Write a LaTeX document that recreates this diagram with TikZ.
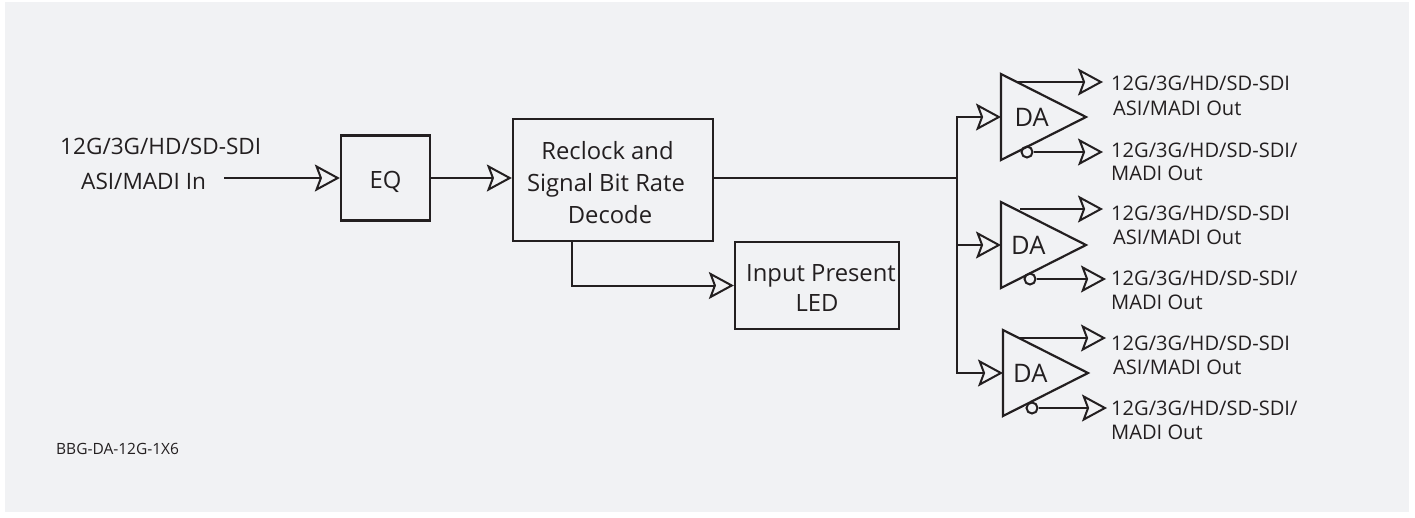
\documentclass[tikz,border=0pt]{standalone}
\usepackage{fontspec}
\setmainfont{Open Sans}
\usetikzlibrary{shapes.geometric,arrows.meta,calc}
\definecolor{panel}{HTML}{F1F2F4}
\definecolor{ink}{HTML}{231F20}

\begin{document}
\begin{tikzpicture}[%
  x=1pt,y=-1pt,
  sig/.style={draw=ink,line width=2pt,-{Stealth[open,length=25pt,width=27pt,inset=5pt]}},
  wire/.style={draw=ink,line width=2pt},
  blockbox/.style={rectangle,draw=ink,line width=2.3pt,inner sep=0pt,align=flush center,text=ink,font=\fontsize{23.8}{32}\selectfont},
  amp/.style={isosceles triangle,isosceles triangle stretches,shape border rotate=0,draw=ink,line width=2.2pt,
    minimum height=85pt,minimum width=86pt,inner sep=0pt,outer sep=0pt,anchor=apex,text=ink,font=\fontsize{25.5}{27}\selectfont},
  inv/.style={circle,draw=ink,line width=2pt,inner sep=0pt,minimum size=11pt},
  inlabel/.style={text=ink,inner sep=0pt,anchor=base west,font=\fontsize{22.6}{26}\selectfont},
  outlabel/.style={text=ink,inner sep=0pt,anchor=base west,font=\fontsize{20.1}{23}\selectfont}]
    \useasboundingbox (0,0) rectangle (1415,517);
    \fill[panel] (5,2) rectangle (1409,512);
    % Input side
    \node[inlabel] (inA) at (60,154) {12G/3G/HD/SD-SDI};
    \node[inlabel] (inB) at (81,189) {ASI/MADI In};
    \coordinate (in) at (224,178);
    \node[blockbox,minimum width=89pt,minimum height=85pt] (eq) at (385.5,178) {\rule{0pt}{26pt}EQ};
    \node[blockbox,text width=200pt,minimum height=122pt] (reclock) at (613,180)
      {\rule{0pt}{24pt}\hspace*{-11pt}Reclock and\\\hspace*{-14pt}Signal Bit Rate\\\hspace*{-6pt}Decode};
    \node[blockbox,minimum width=164pt,minimum height=87pt,font=\fontsize{23.8}{30}\selectfont] (led) at (817,285.5)
      {\rule{0pt}{22pt}\hspace*{8pt}Input Present\\LED};
    \coordinate (tap) at (572,241);
    \coordinate (fork) at (957,178);
    % Amplifiers
    \node[amp] (da1) at (1086,117) {\hspace*{5pt}\raisebox{-2pt}{DA}};
    \node[amp] (da2) at (1086,245) {\raisebox{-3pt}{DA}};
    \node[amp] (da3) at (1088,373) {\raisebox{-2pt}{DA}};
    \node[inv] (inv1) at (1027,152) {};
    \node[inv] (inv2) at (1030,279) {};
    \node[inv] (inv3) at (1032,408) {};
    % Outputs
    \coordinate (da1a) at (1017,82);
    \coordinate (da2a) at (1020,209);
    \coordinate (da3a) at (1020,338);
    \coordinate (out1a) at (1103,82);
    \coordinate (out1b) at (1103,152);
    \coordinate (out2a) at (1103,209);
    \coordinate (out2b) at (1106,279);
    \coordinate (out3a) at (1106,338);
    \coordinate (out3b) at (1107,408);
    \node[outlabel] (lab1a) at (1111,90) {12G/3G/HD/SD-SDI};
    \node[outlabel] (lab1c) at (1113,115) {ASI/MADI Out};
    \node[outlabel] (lab1b) at (1111,157) {12G/3G/HD/SD-SDI/};
    \node[outlabel] (lab1d) at (1111,180) {MADI Out};
    \node[outlabel] (lab2a) at (1111,220) {12G/3G/HD/SD-SDI};
    \node[outlabel] (lab2c) at (1113,244) {ASI/MADI Out};
    \node[outlabel] (lab2b) at (1111,285) {12G/3G/HD/SD-SDI/};
    \node[outlabel] (lab2d) at (1111,309) {MADI Out};
    \node[outlabel] (lab3a) at (1111,350) {12G/3G/HD/SD-SDI};
    \node[outlabel] (lab3c) at (1113,374) {ASI/MADI Out};
    \node[outlabel] (lab3b) at (1111,415) {12G/3G/HD/SD-SDI/};
    \node[outlabel] (lab3d) at (1111,439) {MADI Out};
    \node[outlabel,font=\fontsize{15.5}{18}\selectfont] (part) at (56,454.5) {BBG-DA-12G-1X6};
    % Connectors
    \draw[sig] (in) -- (eq.west);
    \draw[sig] (eq.east) -- (reclock.west |- eq.east);
    \draw[sig] (tap) |- (led.west);
    \draw[wire] (reclock.east |- fork) -- (fork);
    \draw[sig] (fork) |- (da1.lower side);
    \draw[sig] (fork) |- (da2.lower side);
    \draw[sig] (fork) |- (da3.lower side);
    \draw[sig] (da1a) -- (out1a);
    \draw[sig] (inv1.east) -- (out1b);
    \draw[sig] (da2a) -- (out2a);
    \draw[sig] (inv2.east) -- (out2b);
    \draw[sig] (da3a) -- (out3a);
    \draw[sig] (inv3.east) -- (out3b);
\end{tikzpicture}
\end{document}
